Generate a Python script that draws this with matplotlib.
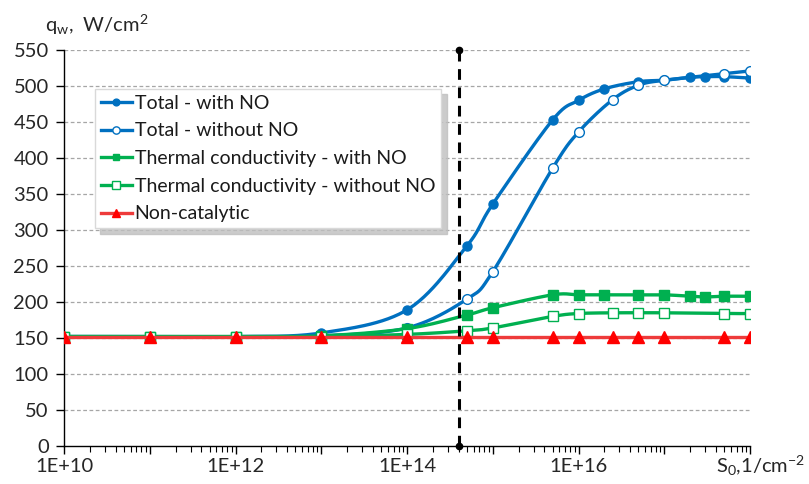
import numpy as np
import matplotlib
matplotlib.use("Agg")
import matplotlib.pyplot as plt
from matplotlib.lines import Line2D
from matplotlib.ticker import LogLocator, NullFormatter, FixedLocator

plt.rcParams['font.family'] = ['Lato', 'DejaVu Sans']
plt.rcParams['mathtext.fontset'] = 'custom'
plt.rcParams['mathtext.rm'] = 'Lato'
plt.rcParams['mathtext.it'] = 'Lato'

# ---- data ----
x_total_no = [1e10, 1e11, 1e12, 1e13, 1e14, 5e14, 1e15, 5e15, 1e16, 2e16, 5e16, 1e17, 2e17, 3e17, 5e17, 1e18]
y_total_no = [152, 152, 152, 157, 189, 278, 336, 453, 480, 496, 506, 508, 512, 513, 513, 511]

x_total_wo = [1e10, 1e11, 1e12, 1e13, 1e14, 5e14, 1e15, 5e15, 1e16, 2.5e16, 5e16, 1e17, 5e17, 1e18]
y_total_wo = [152, 152, 152, 153, 164, 204, 242, 386, 436, 481, 501, 508, 517, 521]

x_therm_no = [1e10, 1e11, 1e12, 1e13, 1e14, 5e14, 1e15, 5e15, 1e16, 2e16, 5e16, 1e17, 2e17, 3e17, 5e17, 1e18]
y_therm_no = [152, 152, 152, 153, 163, 182, 192, 210, 210, 210, 210, 210, 208, 207, 208, 208]

x_therm_wo = [1e10, 1e11, 1e12, 1e13, 1e14, 5e14, 1e15, 5e15, 1e16, 2.5e16, 5e16, 1e17, 5e17, 1e18]
y_therm_wo = [152, 152, 152, 152, 155, 160, 164, 180, 184, 185, 185, 185, 184, 184]

x_noncat = [1e10, 1e11, 1e12, 1e13, 1e14, 5e14, 1e15, 5e15, 1e16, 2.5e16, 5e16, 1e17, 5e17, 1e18]
y_noncat = [151, 151, 151, 151, 151, 151, 151, 151, 151, 151, 151, 151, 151, 151]

vline_x = 4e14
y_ticks = [0, 50, 100, 150, 200, 250, 300, 350, 400, 450, 500, 550]
x_tick_vals = [1e10, 1e12, 1e14, 1e16]
x_tick_labels = ['1E+10', '1E+12', '1E+14', '1E+16']

labels = ['Total - with NO', 'Total - without NO', 'Thermal conductivity - with NO',
          'Thermal conductivity - without NO', 'Non-catalytic']

BLUE = '#0070C0'
GREEN = '#00B050'
RED_LINE = '#EE3B3B'
RED = '#FF0000'


def smooth(xs, ys, n=30):
    """Catmull-Rom style smoothing (like Excel's smoothed lines) in log-x space."""
    lx = np.log10(np.asarray(xs, float))
    yy = np.asarray(ys, float)
    P = np.column_stack([lx, yy])
    P = np.vstack([P[0], P, P[-1]])
    out = []
    t = np.linspace(0, 1, n)
    for i in range(1, len(P) - 2):
        p0, p1, p2, p3 = P[i - 1], P[i], P[i + 1], P[i + 2]
        c1 = p1 + (p2 - p0) / 6.0
        c2 = p2 - (p3 - p1) / 6.0
        seg = ((1 - t) ** 3)[:, None] * p1 + (3 * (1 - t) ** 2 * t)[:, None] * c1 \
            + (3 * (1 - t) * t ** 2)[:, None] * c2 + (t ** 3)[:, None] * p2
        out.append(seg if i == 1 else seg[1:])
    out = np.vstack(out)
    return 10 ** out[:, 0], out[:, 1]


fig = plt.figure(figsize=(8.09, 4.84), dpi=100)
ax = fig.add_axes([64 / 809, 1 - 446 / 484, (750 - 64) / 809, 396 / 484])
ax.set_xscale('log')
ax.set_xlim(1e10, 1e18)
ax.set_ylim(0, 550)

# grid
for yv in y_ticks[1:]:
    ax.axhline(yv, color='#a6a6a6', lw=0.9, ls=(0, (3, 2)), zorder=0)

series = [
    (x_total_no, y_total_no, BLUE, BLUE, 'o', BLUE, 6.5),
    (x_total_wo, y_total_wo, BLUE, 'white', 'o', BLUE, 7.0),
    (x_therm_no, y_therm_no, GREEN, GREEN, 's', GREEN, 6.5),
    (x_therm_wo, y_therm_wo, GREEN, 'white', 's', GREEN, 7.0),
    (x_noncat, y_noncat, RED_LINE, RED, '^', RED, 8.0),
]
handles = []
for i, (xs, ys, lc, fc, mk, ec, ms) in enumerate(series):
    sx, sy = smooth(xs, ys)
    ax.plot(sx, sy, color=lc, lw=2.4, zorder=3 + i, solid_capstyle='round')
    ax.plot(xs, ys, ls='none', marker=mk, ms=ms, mfc=fc, mec=ec, mew=1.0, zorder=3 + i)
    handles.append(Line2D([0], [0], color=lc, lw=2.4, marker=mk, ms=ms * 0.75,
                          mfc=fc, mec=ec, mew=1.0))

# vertical dashed line
ax.plot([vline_x, vline_x], [0, 550], color='black', lw=2.2, ls=(0, (3.5, 2.5)),
        zorder=10, clip_on=False)
ax.plot([vline_x, vline_x], [0, 550], ls='none', marker='o', ms=4.5, color='black',
        zorder=11, clip_on=False)

# axes styling
for s in ['top', 'right']:
    ax.spines[s].set_visible(False)
ax.spines['left'].set_color('black')
ax.spines['bottom'].set_color('black')
ax.spines['left'].set_linewidth(1.0)
ax.spines['bottom'].set_linewidth(1.0)

ax.yaxis.set_major_locator(FixedLocator(y_ticks))
ax.tick_params(axis='y', direction='out', length=6, width=1.0, labelsize=14.5,
               colors='black', labelcolor='#262626', pad=5)

ax.xaxis.set_major_locator(LogLocator(base=10, numticks=20))
ax.xaxis.set_minor_locator(LogLocator(base=10, subs=np.arange(2, 10), numticks=200))
ax.xaxis.set_minor_formatter(NullFormatter())
ax.xaxis.set_major_formatter(NullFormatter())
ax.tick_params(axis='x', which='major', direction='out', length=6, width=1.0)
ax.tick_params(axis='x', which='minor', direction='out', length=4, width=0.8)

for xv, lab in zip(x_tick_vals, x_tick_labels):
    ax.text(xv, -28, lab, ha='center', va='center', fontsize=14.5, color='#262626',
            clip_on=False)
fig.text(805 / 809, 1 - 466 / 484, r'S$_\mathregular{0}$,1/cm$^\mathregular{-2}$',
         ha='right', va='center', fontsize=14.5, color='#262626')

fig.text(45 / 809, 1 - 25 / 484, r'q$_\mathregular{w}$,  W/cm$^\mathregular{2}$',
         ha='left', va='center', fontsize=14.5, color='#262626')

leg = ax.legend(handles, labels, loc='upper left', bbox_to_anchor=(0.045, 0.902),
                fontsize=14, frameon=True, fancybox=False, edgecolor='#d9d9d9',
                framealpha=1, handlelength=1.6, handletextpad=0.15, labelspacing=0.55,
                borderpad=0.3, borderaxespad=0,
                shadow={'ox': 4, 'oy': -4, 'color': '#bfbfbf', 'alpha': 0.8})
leg.set_zorder(20)
for t in leg.get_texts():
    t.set_color('#1a1a1a')

fig.savefig('out.png', dpi=100)
